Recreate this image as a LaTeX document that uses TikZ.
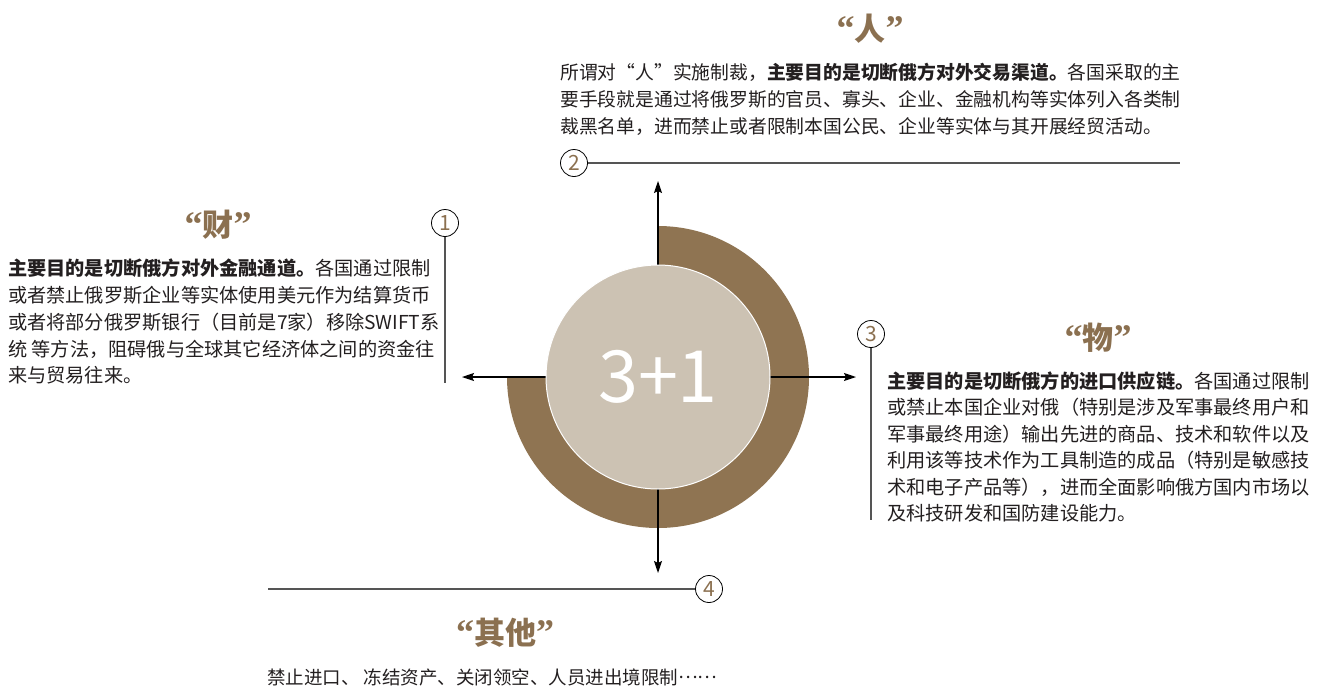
\documentclass[tikz,border=0pt]{standalone}
\usepackage{fontspec}
\setmainfont{Noto Sans CJK SC}
\newfontfamily\lat{Liberation Serif}
\usetikzlibrary{arrows.meta,calc}
\definecolor{ringc}{HTML}{8F7452}
\definecolor{innerc}{HTML}{CCC2B3}
\definecolor{titlec}{HTML}{8B7050}
\definecolor{txt}{HTML}{231F20}
\definecolor{linec}{HTML}{555555}
\tikzset{
 body/.style={anchor=base west, inner sep=0pt, text=txt, font=\fontsize{19.2}{19.2}\selectfont},
 bodytop/.style={body, font=\fontsize{18.8}{18.8}\selectfont},
 ttl/.style={text=titlec, inner sep=0pt, font=\fontsize{31}{31}\selectfont\bfseries},
 numc/.style={circle, draw=black, line width=0.8pt, minimum size=27pt, inner sep=0pt, text=titlec, font=\fontsize{21}{21}\selectfont},
 conn/.style={draw=linec, line width=1.2pt},
 arr/.style={draw=black, line width=1.3pt, -{Stealth[length=12pt,width=8pt,inset=2pt]}},
}
\newcommand{\myLq}{{\lat\fontsize{36}{36}\selectfont “}}
\newcommand{\myRq}{{\lat\fontsize{36}{36}\selectfont ”}}
\begin{document}
\begin{tikzpicture}[x=1pt,y=-1pt]
\useasboundingbox (0,0) rectangle (1319,689);
% centre
\coordinate (o) at (658,377);
\fill[ringc] (o) -- ($(o)+(-90:151)$) arc[start angle=-90,end angle=180,radius=151] -- cycle;
\coordinate (up) at (658,181);
\coordinate (dn) at (658,573);
\coordinate (lf) at (462,377);
\coordinate (rt) at (856,377);
\draw[arr] (o) -- (up);
\draw[arr] (o) -- (dn);
\draw[arr] (o) -- (lf);
\draw[arr] (o) -- (rt);
\node[circle, fill=innerc, draw=white, line width=1pt, minimum size=224pt, inner sep=0pt,
      text=white, font=\fontsize{72}{72}\selectfont] (c) at (o) {3+1};

% number markers
\node[numc] (n1) at (445,223) {1};
\node[numc] (n2) at (574,163) {2};
\node[numc] (n3) at (871,334) {3};
\node[numc] (n4) at (709,589) {4};
\coordinate (e1) at (445,383);
\coordinate (e2) at (1180,163);
\coordinate (e3) at (871,520);
\coordinate (e4) at (268,589);
\draw[conn] (n1.south) -- (e1);
\draw[conn] (n2.east) -- (e2);
\draw[conn] (n3.south) -- (e3);
\draw[conn] (e4) -- (n4.west);

% titles
\node[ttl] (tR) at (870,29) {\myLq 人\myRq};
\node[ttl] (tC) at (218,225) {\myLq 财\myRq};
\node[ttl] (tW) at (1098,338) {\myLq 物\myRq};
\node[ttl] (tQ) at (505,633) {\myLq 其他\myRq};

% top text
\node[bodytop] (r1) at (560,79) {所谓对“人”实施制裁，{\bfseries 主要目的是切断俄方对外交易渠道。}各国采取的主};
\node[bodytop] (r2) at (560,106) {要手段就是通过将俄罗斯的官员、寡头、企业、金融机构等实体列入各类制};
\node[bodytop] (r3) at (560,133) {裁黑名单，进而禁止或者限制本国公民、企业等实体与其开展经贸活动。};

% left text
\node[body] (c1) at (8,275) {{\bfseries 主要目的是切断俄方对外金融通道。}各国通过限制};
\node[body] (c2) at (8,302) {或者禁止俄罗斯企业等实体使用美元作为结算货币};
\node[body] (c3) at (8,329) {或者将部分俄罗斯银行（目前是7家）移除SWIFT系};
\node[body] (c4) at (8,356) {统 等方法，阻碍俄与全球其它经济体之间的资金往};
\node[body] (c5) at (8,382) {来与贸易往来。};

% right text
\node[body] (w1) at (887,388) {{\bfseries 主要目的是切断俄方的进口供应链。}各国通过限制};
\node[body] (w2) at (887,414.5) {或禁止本国企业对俄（特别是涉及军事最终用户和};
\node[body] (w3) at (887,441) {军事最终用途）输出先进的商品、技术和软件以及};
\node[body] (w4) at (887,467.5) {利用该等技术作为工具制造的成品（特别是敏感技};
\node[body] (w5) at (887,494) {术和电子产品等），进而全面影响俄方国内市场以};
\node[body] (w6) at (887,520.5) {及科技研发和国防建设能力。};

% bottom text
\node[body, font=\fontsize{18.5}{18.5}\selectfont] (q1) at (267,684) {禁止进口、 冻结资产、关闭领空、人员进出境限制\raisebox{0.3em}{……}};
\end{tikzpicture}
\end{document}
